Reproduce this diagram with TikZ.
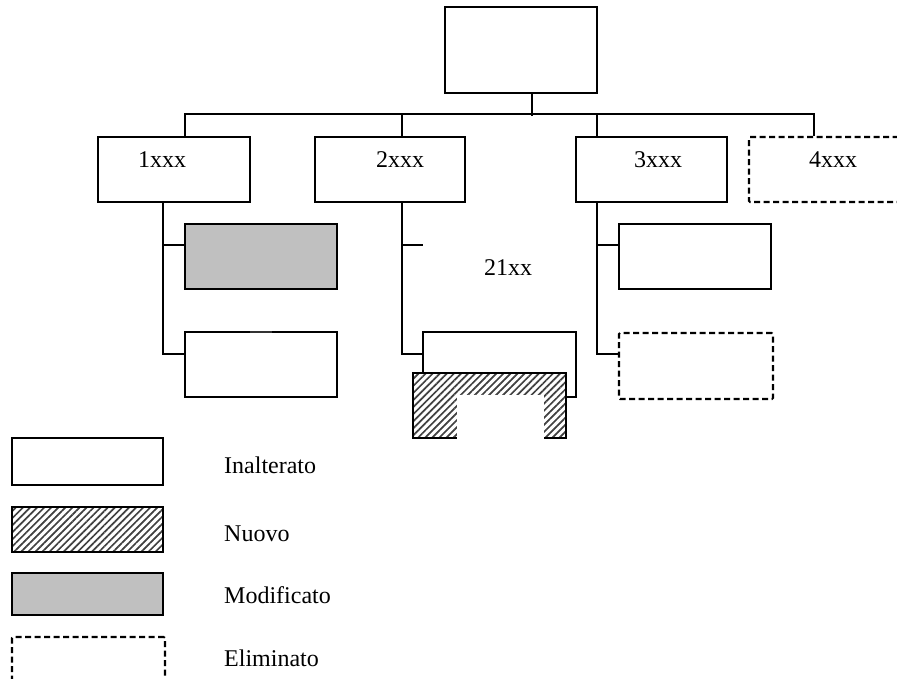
\documentclass[tikz,border=0pt]{standalone}
\usepackage{fontspec}
\setmainfont{Liberation Serif}
\usetikzlibrary{patterns.meta}
\tikzset{
  box/.style={draw, line width=1.6pt, rectangle, inner sep=0pt, fill=white},
  delbox/.style={draw, line width=2.1pt, rectangle, inner sep=0pt, dash pattern=on 6pt off 3.5pt, rounded corners=1pt},
  modbox/.style={box, fill={rgb,255:red,192;green,192;blue,192}},
  newbox/.style={box, preaction={fill=white}, pattern={Lines[angle=45,distance=5pt,line width=1.7pt]}, pattern color=black!75},
  conn/.style={line width=1.6pt},
  lbl/.style={anchor=base, inner sep=0pt, font=\fontsize{24}{28}\selectfont},
  leg/.style={anchor=base west, inner sep=0pt, font=\fontsize{24}{28}\selectfont}
}
\begin{document}
\begin{tikzpicture}[x=1pt,y=-1pt]
\path[use as bounding box] (0,0) rectangle (897,679);
\clip (0,0) rectangle (897,679);
% top level
\node[box, minimum width=152pt, minimum height=86pt] (top) at (521,50) {};
\node[box, minimum width=152pt, minimum height=65pt] (n1) at (174,169.5) {};
\node[box, minimum width=150pt, minimum height=65pt] (n2) at (390,169.5) {};
\node[box, minimum width=151pt, minimum height=65pt] (n3) at (651.5,169.5) {};
\node[delbox, minimum width=160pt, minimum height=65pt] (n4) at (829,169.5) {};
\node[lbl] (t1) at (162,168) {1xxx};
\node[lbl] (t2) at (400,168) {2xxx};
\node[lbl] (t3) at (658,168) {3xxx};
\node[lbl] (t4) at (833,168) {4xxx};
% bus
\draw[conn] ([xshift=11pt]top.south) -- ++(0,22);
\draw[conn] ([xshift=11pt]n1.north) -- ++(0,-22) -| ([xshift=-15pt]n4.north);
\draw[conn] ([xshift=12pt]n2.north) -- ++(0,-22);
\draw[conn] ([xshift=-54.5pt]n3.north) -- ++(0,-22);
% branch 1
\node[modbox, minimum width=152pt, minimum height=65pt] (n1a) at (261,256.5) {};
\node[box, minimum width=152pt, minimum height=65pt] (n1b) at (261,364.5) {};
\draw[line width=2.6pt, black!80] (250,332) -- (272,332);
\draw[conn] ([xshift=-11pt]n1.south) |- ([yshift=10.5pt]n1b.west);
\draw[conn] ([xshift=-11pt]n1.south |- 0,245) -- ([yshift=11.5pt]n1a.west);
% branch 2
\coordinate (stub) at (423,245);
\node[lbl] (t21) at (508,276) {21xx};
\node[box, minimum width=153pt, minimum height=65pt] (n2b) at (499.5,364.5) {};
\draw[conn] ([xshift=12pt]n2.south) |- ([yshift=10.5pt]n2b.west);
\draw[conn] ([xshift=12pt]n2.south |- stub) -- (stub);
\node[newbox, minimum width=153pt, minimum height=65pt] (n2c) at (489.5,405.5) {};
\fill[white] (457,395) rectangle (544,439.5);
% branch 3
\node[box, minimum width=152pt, minimum height=65pt] (n3a) at (695,256.5) {};
\node[delbox, minimum width=154pt, minimum height=66pt] (n3b) at (696,366) {};
\draw[conn] ([xshift=-54.5pt]n3.south) |- ([yshift=12pt]n3b.west);
\draw[conn] ([xshift=-54.5pt]n3.south |- 0,245) -- ([yshift=11.5pt]n3a.west);
% legend
\node[box, minimum width=151pt, minimum height=47pt] (l1) at (87.5,461.5) {};
\node[newbox, minimum width=151pt, minimum height=45pt] (l2) at (87.5,529.5) {};
\node[modbox, minimum width=151pt, minimum height=42pt] (l3) at (87.5,594) {};
\node[delbox, minimum width=153pt, minimum height=53pt] (l4) at (88.5,663.5) {};
\node[leg] (tl1) at (224,473) {Inalterato};
\node[leg] (tl2) at (224,541) {Nuovo};
\node[leg] (tl3) at (224,603) {Modificato};
\node[leg] (tl4) at (224,666) {Eliminato};
\end{tikzpicture}
\end{document}
